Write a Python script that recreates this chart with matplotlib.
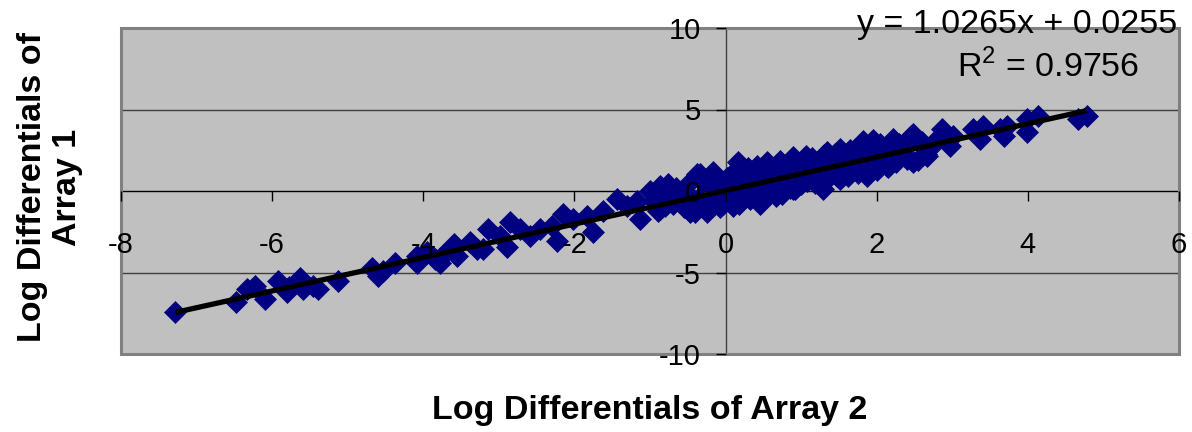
import numpy as np
import matplotlib
matplotlib.use('Agg')
import matplotlib.pyplot as plt
from matplotlib.patches import Rectangle

plt.rcParams['font.family'] = ['Liberation Sans', 'DejaVu Sans']
plt.rcParams['axes.unicode_minus'] = False

# log differentials (array 2 on x, array 1 on y)
x_vals = [
    -7.28, -6.48, -6.33, -6.23, -6.10, -5.92, -5.80, -5.78, -5.63, -5.59,
    -5.46, -5.39, -5.13, -4.68, -4.60, -4.53, -4.37, -4.08, -4.08, -3.95,
    -3.85, -3.78, -3.74, -3.60, -3.56, -3.38, -3.29, -3.21, -3.14, -2.99,
    -2.89, -2.85, -2.72, -2.59, -2.46, -2.30, -2.23, -2.15, -2.02, -1.84,
    -1.76, -1.62, -1.44, -1.31, -1.17, -1.13, -1.00, -0.87, -0.87, -0.76,
    -0.60, -0.47, -0.43, -0.38, -0.34, -0.25, -0.21, -0.17, -0.03, 0.10,
    0.16, 0.42, 0.45, 0.55, 0.67, 0.72, 0.89, 0.89, 1.07, 1.29,
    1.34, 1.51, 1.51, 1.82, 1.87, 2.04, 2.13, 2.21, 2.40, 2.40,
    2.48, 2.48, 2.53, 2.67, 2.80, 2.86, 2.97, 3.01, 3.28, 3.37,
    3.41, 3.63, 3.68, 3.72, 3.99, 3.99, 4.14, 4.67, 4.78,
    -0.95, -0.90, -0.85, -0.80, -0.75, -0.70, -0.65, -0.60, -0.55, -0.50,
    -0.48, -0.45, -0.40, -0.35, -0.30, -0.28, -0.20, -0.18, -0.15, -0.12,
    -0.10, -0.08, -0.05, -0.02, 0.00, 0.02, 0.05, 0.08, 0.12, 0.15,
    0.18, 0.20, 0.22, 0.25, 0.28, 0.30, 0.32, 0.35, 0.38, 0.40,
    0.48, 0.50, 0.52, 0.58, 0.60, 0.62, 0.65, 0.68, 0.70, 0.75,
    0.78, 0.80, 0.82, 0.85, 0.88, 0.92, 0.95, 0.98, 1.00, 1.02,
    1.05, 1.08, 1.10, 1.12, 1.15, 1.18, 1.20, 1.22, 1.25, 1.30,
    1.35, 1.38, 1.40, 1.45, 1.48, 1.55, 1.60, 1.62, 1.65, 1.70,
    1.72, 1.75, 1.80, 1.85, 1.90, 1.95, 1.98, 2.00, 2.05, 2.10,
    2.15, 2.20, 2.25, 2.30, 2.35, 2.45, 2.55, 2.60, 2.65, 2.75,
]
y_vals = [
    -7.42, -6.80, -6.00, -5.80, -6.60, -5.50, -6.20, -5.90, -5.35, -6.00,
    -5.80, -6.00, -5.50, -4.70, -5.20, -4.90, -4.40, -4.40, -4.00, -3.75,
    -4.20, -4.40, -3.90, -3.25, -4.00, -3.10, -3.55, -3.55, -2.35, -2.75,
    -3.45, -1.90, -2.35, -2.75, -2.35, -2.15, -3.05, -1.40, -1.70, -1.55,
    -2.50, -1.20, -0.50, -0.90, -0.60, -1.70, 0.00, 0.30, -1.10, 0.45,
    -0.30, -1.30, -1.10, 1.05, 1.05, -1.30, 0.90, 1.15, -0.80, -0.90,
    1.75, 1.55, -0.80, 1.75, -0.30, 1.85, 2.10, 0.10, 2.15, 0.10,
    2.40, 2.60, 0.75, 3.05, 0.90, 2.90, 1.55, 3.20, 3.00, 1.95,
    3.50, 1.75, 3.20, 2.15, 3.20, 3.80, 2.75, 3.40, 3.80, 3.20,
    4.00, 3.80, 3.40, 4.00, 4.40, 3.60, 4.60, 4.40, 4.60,
    -0.60, -1.20, 0.10, -0.90, -0.30, -0.80, 0.20, -0.50, -1.00, -0.20,
    0.50, -0.70, -1.30, -0.40, 0.60, -0.90, 0.40, -0.60, 0.90, -0.30,
    0.20, -1.00, 0.50, -0.40, 0.10, 0.80, -0.60, 0.30, 1.20, 0.50,
    -0.80, 0.00, 0.90, -0.30, 0.40, 1.40, -0.50, 0.20, 0.80, -0.10,
    -0.60, 0.90, 0.20, -0.20, 0.60, 1.10, 0.10, 0.80, 1.60, -0.20,
    1.00, 0.50, 1.70, 0.20, 1.20, 0.10, 1.50, 0.90, 0.40, 1.90,
    1.20, 0.60, 1.60, 0.90, 2.00, 0.50, 1.30, 1.80, 0.90, 2.20,
    0.80, 1.90, 1.20, 2.30, 0.90, 1.30, 2.00, 0.90, 2.50, 1.50,
    2.20, 1.10, 2.80, 2.40, 1.60, 3.10, 2.10, 1.30, 2.70, 1.90,
    1.50, 2.40, 1.80, 2.90, 2.20, 3.40, 1.90, 3.00, 2.30, 2.80,
]

# trendline as printed on the chart
slope = 1.0265
intercept = 0.0255
r_squared = 0.9756

x_ticks = [-8, -6, -4, -2, 0, 2, 4, 6]
y_ticks = [-10, -5, 0, 5, 10]

fig = plt.figure(figsize=(11.92, 4.32), dpi=100)
ax = fig.add_axes([121 / 1192, 1 - 354 / 432, 1058 / 1192, 326 / 432])
ax.set_facecolor('#c0c0c0')
ax.set_xlim(-8, 6)
ax.set_ylim(-10, 10)

for yg in [-5, 5]:
    ax.axhline(yg, color='#404040', lw=1.0, zorder=1)

ax.spines['left'].set_position(('data', 0))
ax.spines['bottom'].set_position(('data', 0))
ax.spines['left'].set_color('#404040')
ax.spines['bottom'].set_color('black')
ax.spines['left'].set_linewidth(1.0)
ax.spines['bottom'].set_linewidth(1.0)
ax.spines['left'].set_zorder(1.5)
ax.spines['bottom'].set_zorder(1.5)
ax.spines['right'].set_visible(False)
ax.spines['top'].set_visible(False)

ax.add_patch(Rectangle((0, 0), 1, 1, transform=ax.transAxes, fill=False,
                       edgecolor='#808080', lw=2.2, zorder=5, clip_on=False))

ax.set_xticks(x_ticks)
ax.set_yticks(y_ticks)
ax.tick_params(axis='x', direction='out', length=7, width=1, labelsize=21, pad=22)
ax.tick_params(axis='y', direction='out', length=7, width=1, labelsize=21, pad=11)
# tick labels sit on top of the markers, as in the original
ax.xaxis.set_zorder(6)
ax.yaxis.set_zorder(6)

ax.plot(x_vals, y_vals, linestyle='none', marker='D', ms=11.5,
        color='#000080', mec='#000080', mew=0.5, zorder=3, clip_on=False)

xs = np.array([min(x_vals), max(x_vals)])
ax.plot(xs, slope * xs + intercept, color='black', lw=3.8,
        solid_capstyle='butt', zorder=4)

fig.text(1017 / 1192, 1 - 33 / 432, 'y = %.4fx + %.4f' % (slope, intercept),
         ha='center', va='baseline', fontsize=24.5)
fig.text(1048 / 1192, 1 - 77 / 432, r'R$^\mathregular{2}$ = %.4f' % r_squared,
         ha='center', va='baseline', fontsize=24.5)

fig.text(650 / 1192, 1 - 410 / 432, 'Log Differentials of Array 2',
         ha='center', va='center', fontsize=24.5, fontweight='bold')
fig.text(50 / 1192, 1 - 187 / 432, 'Log Differentials of\nArray 1',
         ha='center', va='center', rotation=90, fontsize=24.5,
         fontweight='bold', linespacing=1.2)

fig.savefig('out.png', dpi=100)
